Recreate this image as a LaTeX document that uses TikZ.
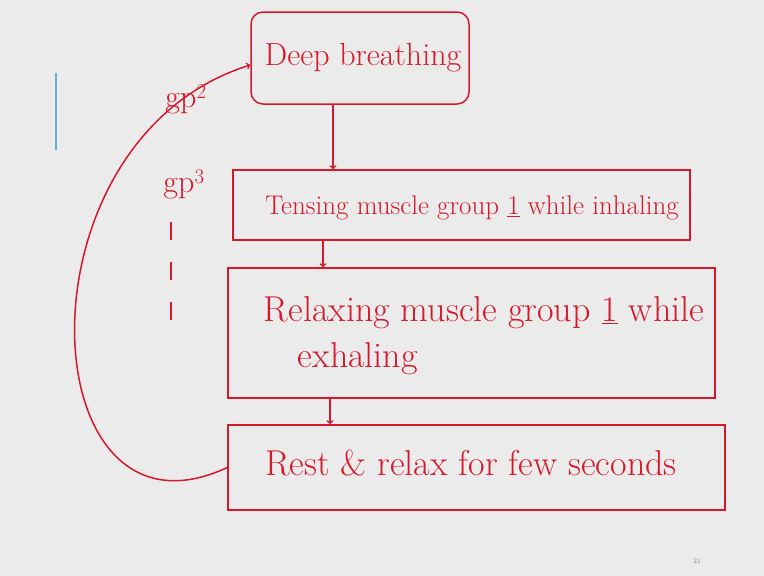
\documentclass[tikz,border=0pt]{standalone}
\usepackage{tikz}
\definecolor{ink}{RGB}{214, 24, 44}
\definecolor{board}{RGB}{235, 235, 235}
\definecolor{pen}{RGB}{95, 180, 210}
\usetikzlibrary{positioning}
\tikzset{stepbox/.style={rectangle, draw=ink, line width=1.5pt, inner sep=0pt},
steptext/.style={text=ink, inner sep=0pt},
flow/.style={->, draw=ink, line width=1.5pt}}

\begin{document}
\begin{tikzpicture}
\fill [board] (0pt, 0pt) rectangle (764pt, -576pt);
\useasboundingbox (0pt, 0pt) rectangle (764pt, -576pt);
% the four steps
\node (b1) [stepbox, rounded corners=12pt, minimum width=218pt, minimum height=92pt] at (360.0pt, -58.0pt) {};
\node (b2) [stepbox, minimum width=457pt, minimum height=70pt] at (461.5pt, -205.0pt) {};
\node (b3) [stepbox, minimum width=487pt, minimum height=130pt] at (471.5pt, -333.0pt) {};
\node (b4) [stepbox, minimum width=497pt, minimum height=85pt] at (476.5pt, -467.5pt) {};
\node (t1) [steptext, font=\fontsize{32}{36}\selectfont] at (363.0pt, -58.0pt) {Deep breathing};
\node (t2) [steptext, font=\fontsize{27}{30}\selectfont] at (472.0pt, -208.0pt) {Tensing muscle group \underline{1} while inhaling};
\node (t3) [steptext, font=\fontsize{36}{46}\selectfont, align=left] at (484.0pt, -336.0pt) {Relaxing muscle group \underline{1} while\\\hspace*{34pt}exhaling};
\node (t4) [steptext, font=\fontsize{36}{40}\selectfont] at (471.0pt, -463.0pt) {Rest \& relax for few seconds};
% arrows between steps
\draw [flow] (b1.south -| 333pt, 0pt) to (b2.north -| 333pt, 0pt);
\draw [flow] (b2.south -| 323pt, 0pt) to (b3.north -| 323pt, 0pt);
\draw [flow] (b3.south -| 330pt, 0pt) to (b4.north -| 330pt, 0pt);
% loop back for the next groups
\draw [flow] (b4.west) .. controls (30pt, -560pt) and (10pt, -140pt) .. ([yshift=-7pt]b1.west);
\node (g2) [steptext, font=\fontsize{32}{36}\selectfont] at (186.0pt, -100.0pt) {gp$^{2}$};
\node (g3) [steptext, font=\fontsize{32}{36}\selectfont] at (184.0pt, -185.0pt) {gp$^{3}$};
\coordinate (gtop) at (171.0pt, -222.0pt);
\coordinate (gend) at (171.0pt, -320.0pt);
\draw [ink, line width=1.5pt, dash pattern=on 18pt off 22pt] (gtop) to (gend);
% pen mark and page number
\node (pg) [text=gray, font=\scriptsize] at (697.0pt, -561.0pt) {21};
\draw [pen, line width=1.2pt] (56pt, -73pt) to (56pt, -150pt);
\end{tikzpicture}
\end{document}
